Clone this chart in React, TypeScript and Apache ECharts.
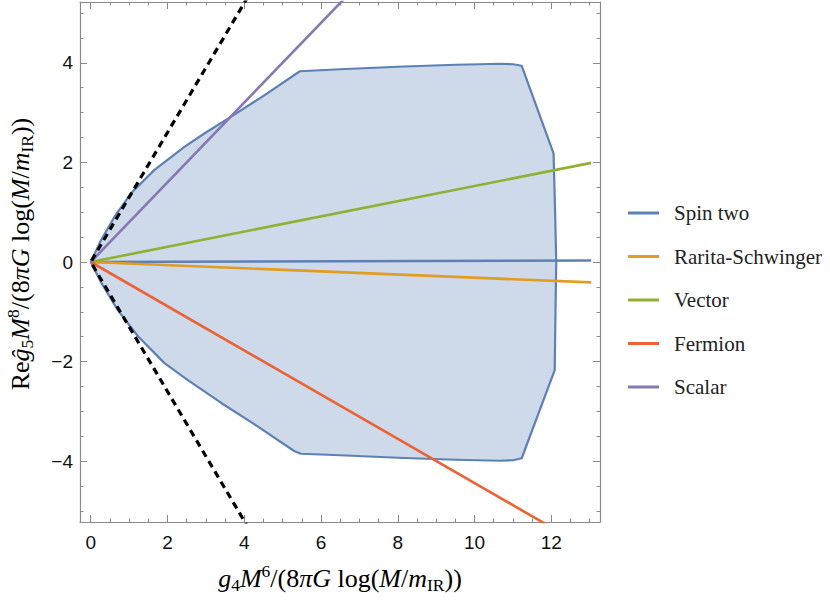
import React, { useEffect, useRef } from "react";
import * as echarts from "echarts";

// ---- data ----
const legendNames = ["Spin two", "Rarita-Schwinger", "Vector", "Fermion", "Scalar"];
const seriesColors = ["#5E81B5", "#E19C24", "#8FB032", "#EB6235", "#8778B3"];

const xMajorTicks = [0, 2, 4, 6, 8, 10, 12];
const xMinorTicks = [0.5, 1, 1.5, 2.5, 3, 3.5, 4.5, 5, 5.5, 6.5, 7, 7.5, 8.5, 9, 9.5, 10.5, 11, 11.5, 12.5, 13];
const yMajorTicks = [-4, -2, 0, 2, 4];
const yMinorTicks = [-5, -4.5, -3.5, -3, -2.5, -1.5, -1, -0.5, 0.5, 1, 1.5, 2.5, 3, 3.5, 4.5, 5];

// Spin-two allowed region: upper edge (origin -> right) and lower edge (right -> origin)
const regionUpper: number[][] = [
  [0, 0], [0.27, 0.44], [0.62, 0.91], [1.05, 1.38], [1.66, 1.85], [2.44, 2.31],
  [2.96, 2.58], [3.66, 2.92], [4.53, 3.35], [5.45, 3.83], [6.5, 3.87], [8, 3.92],
  [9.5, 3.96], [10.14, 3.97], [10.66, 3.98], [11.01, 3.97], [11.23, 3.94],
  [12.06, 2.18], [12.1, 1.0], [12.13, 0],
];
const regionLower: number[][] = [
  [12.11, -1.0], [12.09, -2.17], [11.23, -3.94], [11.01, -3.98], [10.66, -3.99],
  [9.5, -3.97], [8, -3.93], [6.5, -3.88], [5.48, -3.85], [5.31, -3.8], [4.27, -3.26],
  [3.4, -2.83], [2.53, -2.37], [1.92, -2.03], [1.23, -1.49], [0.7, -0.96],
  [0.27, -0.41], [0, 0],
];

const spinTwoLine = [[0, 0], [13.04, 0.03]];
const raritaSchwingerLine = [[0, 0], [13.04, -0.41]];
const vectorLine = [[0, 0], [13.04, 1.99]];
const fermionLine = [[0, 0], [12.1, -5.37]];
const scalarLine = [[0, 0], [6.8, 5.44]];
const boundLine = [[4.1, 5.33], [0, 0], [4.1, -5.33]];

const X_MIN = -0.28, X_MAX = 13.27, Y_MIN = -5.22, Y_MAX = 5.22;

const FRAME = "#8a8a8a";
const SANS = "'Liberation Sans', Arial, sans-serif";
const SERIF = "'Liberation Serif', 'DejaVu Serif', serif";

function makeAxis(kind: "x" | "y", position: string, major: boolean, labels: boolean) {
  const ticks = major ? (kind === "x" ? xMajorTicks : yMajorTicks) : (kind === "x" ? xMinorTicks : yMinorTicks);
  return {
    type: "value",
    position,
    min: kind === "x" ? X_MIN : Y_MIN,
    max: kind === "x" ? X_MAX : Y_MAX,
    axisLine: { show: major, onZero: false, lineStyle: { color: FRAME, width: 1.2 } },
    axisTick: {
      show: true,
      inside: true,
      length: major ? 7 : 3.5,
      customValues: ticks,
      lineStyle: { color: FRAME, width: 1 },
    },
    axisLabel: labels
      ? {
          show: true,
          customValues: kind === "x" ? xMajorTicks : yMajorTicks,
          fontFamily: SANS,
          fontSize: 19,
          color: "#111",
          margin: kind === "x" ? 11 : 7,
          formatter: (v: number) => String(v).replace("-", "\u2212"),
        }
      : { show: false },
    splitLine: { show: false },
    minorTick: { show: false },
  };
}

const mathRich = {
  r: { fontFamily: SERIF, fontSize: 26, lineHeight: 32, color: "#222" },
  i: { fontFamily: SERIF, fontSize: 26, fontStyle: "italic", lineHeight: 32, color: "#222" },
  sub: { fontFamily: SERIF, fontSize: 17.5, lineHeight: 18, verticalAlign: "bottom", color: "#222" },
  sup: { fontFamily: SERIF, fontSize: 17.5, lineHeight: 18, verticalAlign: "top", color: "#222" },
};

export default function App() {
  const ref = useRef<HTMLDivElement>(null);
  useEffect(() => {
    if (!ref.current) return;
    const chart = echarts.init(ref.current, undefined, { renderer: "svg" });
    const regionPts = regionUpper.concat(regionLower);
    const lineDefs = [spinTwoLine, raritaSchwingerLine, vectorLine, fermionLine, scalarLine];
    chart.setOption({
      animation: false,
      backgroundColor: "#fff",
      grid: { left: 80, right: 230, top: 2, bottom: 81, containLabel: false },
      xAxis: [
        makeAxis("x", "bottom", true, true),
        makeAxis("x", "bottom", false, false),
        makeAxis("x", "top", true, false),
        makeAxis("x", "top", false, false),
      ],
      yAxis: [
        makeAxis("y", "left", true, true),
        makeAxis("y", "left", false, false),
        makeAxis("y", "right", true, false),
        makeAxis("y", "right", false, false),
      ],
      legend: {
        orient: "vertical",
        left: 623,
        top: 197,
        icon: "rect",
        itemWidth: 31,
        itemHeight: 3,
        itemGap: 21.5,
        data: legendNames.map((n, k) => ({ name: n, itemStyle: { color: seriesColors[k] } })),
        textStyle: { fontFamily: SERIF, fontSize: 21, lineHeight: 22, color: "#222", padding: [0, 0, 0, 10] },
        selectedMode: false,
      },
      series: [
        {
          type: "custom",
          name: "Spin two region",
          xAxisIndex: 0,
          yAxisIndex: 0,
          silent: true,
          data: [[0, 0]],
          renderItem: (_p: any, api: any) => ({
            type: "polygon",
            shape: { points: regionPts.map((p) => api.coord(p)), smooth: 0 },
            style: { fill: "rgba(94,129,181,0.3)", stroke: "#5E81B5", lineWidth: 2.2, lineJoin: "round" },
          }),
          z: 1,
        },
        ...lineDefs.map((d, k) => ({
          type: "line",
          name: legendNames[k],
          xAxisIndex: 0,
          yAxisIndex: 0,
          data: d,
          symbol: "none",
          showSymbol: false,
          clip: true,
          lineStyle: { color: seriesColors[k], width: 2.6 },
          itemStyle: { color: seriesColors[k] },
          z: 3,
        })),
        {
          type: "line",
          name: "bound",
          xAxisIndex: 0,
          yAxisIndex: 0,
          data: boundLine,
          symbol: "none",
          clip: true,
          lineStyle: { color: "#000", width: 3.2, type: [7, 5] },
          z: 4,
        },
      ],
      graphic: [
        {
          type: "text",
          x: 340,
          y: 578,
          style: {
            text: "{i|g}{sub|4}{i|M}{sup|6}{r|/(8}{i|πG}{r| log(}{i|M}{r|/}{i|m}{sub|IR}{r|))}",
            rich: mathRich,
            align: "center",
            verticalAlign: "middle",
          },
        },
        {
          type: "text",
          x: 20,
          y: 254,
          rotation: Math.PI / 2,
          style: {
            text: "{r|Re}{i|ĝ}{sub|5}{i|M}{sup|8}{r|/(8}{i|πG}{r| log(}{i|M}{r|/}{i|m}{sub|IR}{r|))}",
            rich: mathRich,
            align: "center",
            verticalAlign: "middle",
          },
        },
      ],
    });
    return () => chart.dispose();
  }, []);
  return (
    <div
      ref={ref}
      style={{ position: "fixed", left: 0, top: 0, width: 830, height: 603, background: "#fff" }}
    />
  );
}
